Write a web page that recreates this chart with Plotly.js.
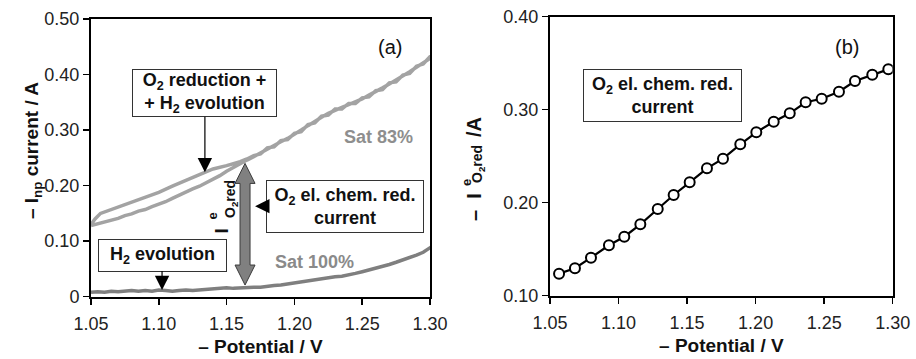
<!DOCTYPE html>
<html><head><meta charset="utf-8">
<script src="https://cdn.plot.ly/plotly-3.0.1.min.js"></script>
<style>html,body{margin:0;padding:0;background:#fff}</style>
</head><body><div id="chart" style="width:916px;height:359px"></div>
<script>
// ---- Panel (a): Sat 83% loop (forward branch then return branch) ----
const potential83 = [1.050,1.055,1.060,1.065,1.070,1.075,1.080,1.085,1.090,1.095,1.100,1.105,1.110,1.115,1.120,1.125,1.130,1.135,1.140,1.145,1.150,1.155,1.160,1.165,1.170,1.175,1.180,1.185,1.190,1.195,1.200,1.205,1.210,1.215,1.220,1.225,1.230,1.235,1.240,1.245,1.250,1.255,1.260,1.265,1.270,1.275,1.280,1.285,1.290,1.295,1.300,1.303,
  1.300,1.295,1.290,1.285,1.280,1.275,1.270,1.265,1.260,1.255,1.250,1.245,1.240,1.235,1.230,1.225,1.220,1.215,1.210,1.205,1.200,1.195,1.190,1.185,1.180,1.175,1.170,1.165,1.160,1.150,1.140,1.130,1.120,1.110,1.100,1.090,1.080,1.070,1.060,1.057,1.053,1.050];
const current83 = [0.128,0.131,0.134,0.138,0.141,0.146,0.149,0.154,0.157,0.162,0.166,0.171,0.177,0.183,0.188,0.194,0.199,0.205,0.211,0.218,0.226,0.233,0.240,0.246,0.252,0.259,0.266,0.272,0.279,0.285,0.292,0.300,0.308,0.316,0.323,0.330,0.336,0.341,0.346,0.351,0.356,0.363,0.369,0.376,0.383,0.390,0.397,0.405,0.413,0.421,0.429,0.436,
  0.432,0.419,0.415,0.402,0.399,0.387,0.385,0.373,0.371,0.360,0.358,0.348,0.348,0.338,0.338,0.327,0.325,0.313,0.310,0.297,0.294,0.283,0.281,0.270,0.268,0.257,0.254,0.248,0.243,0.236,0.230,0.220,0.210,0.199,0.188,0.179,0.170,0.162,0.153,0.150,0.140,0.130];

// ---- Panel (a): Sat 100% ----
const potential100 = [1.050,1.055,1.060,1.065,1.070,1.075,1.080,1.085,1.090,1.095,1.100,1.105,1.110,1.115,1.120,1.125,1.130,1.135,1.140,1.145,1.150,1.155,1.160,1.165,1.170,1.175,1.180,1.185,1.190,1.195,1.200,1.205,1.210,1.215,1.220,1.225,1.230,1.235,1.240,1.245,1.250,1.255,1.260,1.265,1.270,1.275,1.280,1.285,1.290,1.295,1.300,1.303];
const current100 = [0.008,0.009,0.008,0.010,0.009,0.010,0.011,0.010,0.011,0.010,0.012,0.011,0.010,0.011,0.012,0.011,0.012,0.013,0.013,0.014,0.016,0.015,0.016,0.016,0.017,0.017,0.019,0.020,0.021,0.023,0.025,0.026,0.028,0.030,0.032,0.034,0.036,0.037,0.039,0.042,0.045,0.048,0.051,0.054,0.058,0.062,0.066,0.070,0.075,0.080,0.087,0.093];

// ---- Panel (b): O2 electrochemical reduction current ----
const potentialB = [1.0566,1.0682,1.0799,1.0930,1.1042,1.1159,1.1286,1.1402,1.1519,1.1645,1.1762,1.1888,1.2005,1.2132,1.2249,1.2365,1.2482,1.2608,1.2725,1.2851,1.2968];
const currentB = [0.1237,0.1295,0.1409,0.1542,0.1634,0.1768,0.1932,0.2083,0.2219,0.2370,0.2473,0.2628,0.2757,0.2871,0.2961,0.3080,0.3118,0.3194,0.3309,0.3376,0.3434];

// ---- Tick labels ----
const xTickVals = [1.05,1.10,1.15,1.20,1.25,1.30];
const xTickText = ["1.05","1.10","1.15","1.20","1.25","1.30"];
const yTickValsA = [0,0.1,0.2,0.3,0.4,0.5];
const yTickTextA = ["0","0.10","0.20","0.30","0.40","0.50"];
const yTickValsB = [0.1,0.2,0.3,0.4];
const yTickTextB = ["0.10","0.20","0.30","0.40"];

const W = 916, H = 359;
const px = v => v / W;
const py = v => 1 - v / H;
const FONT = "Arial, 'Liberation Sans', sans-serif";

const traces = [
  {x: potential83, y: current83, xaxis:'x', yaxis:'y', mode:'lines', name:'Sat 83%',
   line:{color:'#a3a3a3', width:3.5}, hoverinfo:'skip'},
  {x: potential100, y: current100, xaxis:'x', yaxis:'y', mode:'lines', name:'Sat 100%',
   line:{color:'#7f7f7f', width:3.5}, hoverinfo:'skip'},
  {x: potentialB, y: currentB, xaxis:'x2', yaxis:'y2', mode:'lines+markers', name:'O2 red',
   line:{color:'#000', width:2.2},
   marker:{symbol:'circle', size:10, color:'#fff', line:{color:'#000', width:2}}, hoverinfo:'skip'}
];

const axisCommon = {
  showgrid:false, zeroline:false, showline:true, linecolor:'#000', linewidth:2, mirror:true,
  ticks:'outside', ticklen:6, tickwidth:1.5, tickcolor:'#000',
  tickfont:{family:FONT, size:18, color:'#222'}, automargin:false, fixedrange:true
};
const titleFont = {family:FONT, size:19, color:'#111', weight:'bold'};

const layout = {
  width: W, height: H, margin:{l:0,r:0,t:0,b:0}, showlegend:false,
  paper_bgcolor:'#fff', plot_bgcolor:'#fff', font:{family:FONT},
  xaxis: Object.assign({}, axisCommon, {domain:[px(91), px(430)], range:[1.05,1.30], anchor:'y',
    tickmode:'array', tickvals:xTickVals, ticktext:xTickText, ticklabelstandoff:4,
    title:{text:'– Potential / V', font:titleFont, standoff:6}}),
  yaxis: Object.assign({}, axisCommon, {domain:[py(296.7), py(19)], range:[0,0.5], anchor:'x',
    tickmode:'array', tickvals:yTickValsA, ticktext:yTickTextA}),
  xaxis2: Object.assign({}, axisCommon, {domain:[px(550), px(892.7)], range:[1.05,1.30], anchor:'y2',
    tickmode:'array', tickvals:xTickVals, ticktext:xTickText, ticklabelstandoff:4,
    title:{text:'– Potential / V', font:titleFont, standoff:6}}),
  yaxis2: Object.assign({}, axisCommon, {domain:[py(295.7), py(16.7)], range:[0.1,0.4], anchor:'x2',
    tickmode:'array', tickvals:yTickValsB, ticktext:yTickTextB}),
  shapes: [
    {type:'path', xref:'x', yref:'y', xsizemode:'pixel', xanchor:1.1636,
     path:'M0,0.240 L10,0.204 L5,0.204 L5,0.057 L10,0.057 L0,0.021 L-10,0.057 L-5,0.057 L-5,0.204 L-10,0.204 Z',
     fillcolor:'#808080', line:{color:'#3a3a3a', width:1}}
  ],
  annotations: [
    // y title of panel (a)
    {xref:'paper', yref:'paper', x:px(19), y:py(151), text:'<b>– I<sub>np</sub> current / A</b>', textangle:-90, showarrow:false, font:{family:FONT, size:19, color:'#111'}},
    {xref:'x', yref:'y', x:1.2705, y:0.4495, text:'(a)', showarrow:false, font:{family:FONT, size:20, color:'#111'}},
    {xref:'x2', yref:'y2', x:1.2667, y:0.3674, text:'(b)', showarrow:false, font:{family:FONT, size:20, color:'#111'}},
    {xref:'x', yref:'y', x:1.2617, y:0.287, text:'<b>Sat 83%</b>', showarrow:false, font:{family:FONT, size:18, color:'#8e8e8e'}},
    {xref:'x', yref:'y', x:1.215, y:0.0625, text:'<b>Sat 100%</b>', showarrow:false, font:{family:FONT, size:18, color:'#8a8a8a'}},
    {xref:'x', yref:'y', x:1.134, y:0.224, ax:0, ay:-79, showarrow:true, arrowhead:2, arrowsize:2.4, arrowwidth:1.2, arrowcolor:'#000',
     text:'<b>O<sub>2</sub> reduction +<br>+ H<sub>2</sub> evolution</b>', font:{family:FONT, size:18, color:'#111'},
     bordercolor:'#333', borderwidth:1, borderpad:1, bgcolor:'#fff', width:141, height:44},
    {xref:'x', yref:'y', x:1.1710, y:0.163, ax:90, ay:0, showarrow:true, arrowhead:2, arrowsize:2.4, arrowwidth:1.2, arrowcolor:'#000',
     text:'<b>O<sub>2</sub> el. chem. red.<br>current</b>', font:{family:FONT, size:18, color:'#111'},
     bordercolor:'#333', borderwidth:1, borderpad:1, bgcolor:'#fff', width:154, height:49},
    {xref:'x', yref:'y', x:1.1024, y:0.012, ax:0, ay:-35, showarrow:true, arrowhead:2, arrowsize:2.4, arrowwidth:1.2, arrowcolor:'#000',
     text:'<b>H<sub>2</sub> evolution</b>', font:{family:FONT, size:18, color:'#111'},
     bordercolor:'#333', borderwidth:1, borderpad:1, bgcolor:'#fff', width:125, height:29},
    {xref:'x2', yref:'y2', x:1.132, y:0.3153, showarrow:false,
     text:'<b>O<sub>2</sub> el. chem. red.<br>current</b>', font:{family:FONT, size:18, color:'#111'},
     bordercolor:'#333', borderwidth:1, borderpad:1, bgcolor:'#fff', width:155, height:49},
    // inner label I^e_{O2red} in panel (a)
    {xref:'paper', yref:'paper', x:px(208), y:py(231), text:'<b>I</b>', textangle:-90, showarrow:false, font:{family:FONT, size:19, color:'#111'}},
    {xref:'paper', yref:'paper', x:px(202), y:py(216), text:'<b>e</b>', textangle:-90, showarrow:false, font:{family:FONT, size:13, color:'#111'}},
    {xref:'paper', yref:'paper', x:px(220), y:py(199), text:'<b>O<sub>2</sub>red</b>', textangle:-90, showarrow:false, font:{family:FONT, size:14, color:'#111'}},
    // y title of panel (b)
    {xref:'paper', yref:'paper', x:px(474), y:py(207), text:'<b>–  I</b>', textangle:-90, showarrow:false, font:{family:FONT, size:20, color:'#111'}},
    {xref:'paper', yref:'paper', x:px(466), y:py(183), text:'<b>e</b>', textangle:-90, showarrow:false, font:{family:FONT, size:13, color:'#111'}},
    {xref:'paper', yref:'paper', x:px(478), y:py(164), text:'<b>O<sub>2</sub>red</b>', textangle:-90, showarrow:false, font:{family:FONT, size:14, color:'#111'}},
    {xref:'paper', yref:'paper', x:px(474), y:py(127), text:'<b>/A</b>', textangle:-90, showarrow:false, font:{family:FONT, size:20, color:'#111'}}
  ]
};

Plotly.newPlot('chart', traces, layout, {staticPlot:true, displayModeBar:false});
</script></body></html>
